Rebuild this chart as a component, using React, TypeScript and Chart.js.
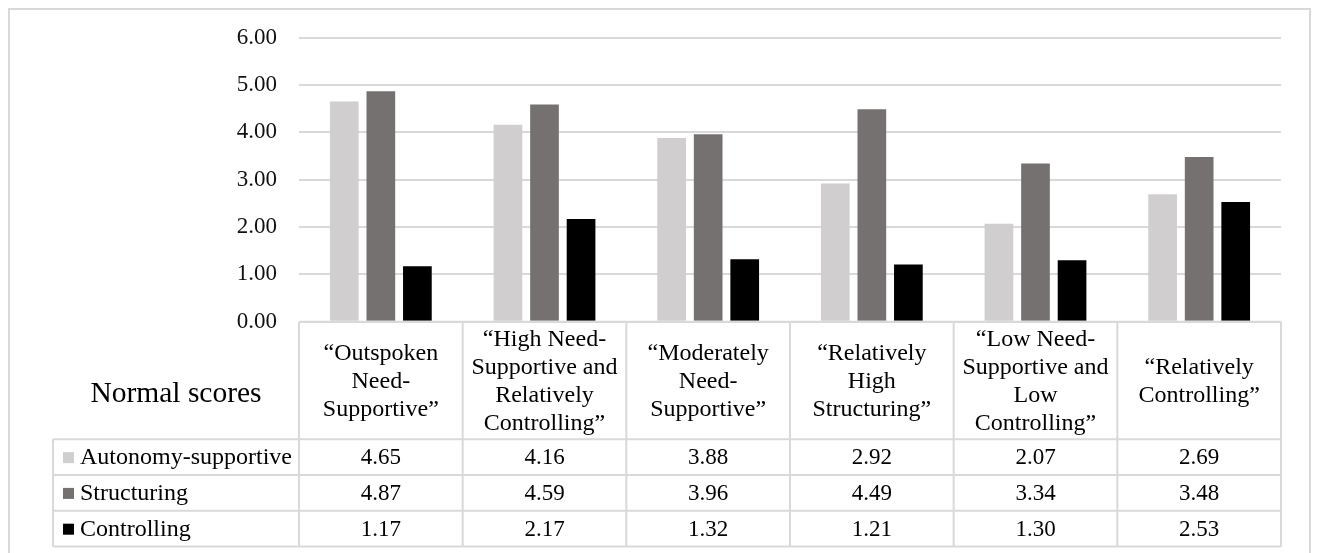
import React, { useEffect, useRef } from "react";
import { Chart, registerables } from "chart.js";

Chart.register(...registerables);

const categoryLines: string[][] = [
  ["“Outspoken", "Need-", "Supportive”"],
  ["“High Need-", "Supportive and", "Relatively", "Controlling”"],
  ["“Moderately", "Need-", "Supportive”"],
  ["“Relatively", "High", "Structuring”"],
  ["“Low Need-", "Supportive and", "Low", "Controlling”"],
  ["“Relatively", "Controlling”"],
];
const categories = categoryLines.map((l) => l.join(" "));

const seriesNames = ["Autonomy-supportive", "Structuring", "Controlling"];
const autonomy = [4.65, 4.16, 3.88, 2.92, 2.07, 2.69];
const structuring = [4.87, 4.59, 3.96, 4.49, 3.34, 3.48];
const controlling = [1.17, 2.17, 1.32, 1.21, 1.3, 2.53];
const seriesColors = ["#d0cece", "#767171", "#000000"];
const tableTitle = "Normal scores";

const FONT = '"Liberation Serif", "Times New Roman", serif';
const LINE = "#d9d9d9";

const tablePlugin = {
  id: "dataTable",
  afterDraw(chart: any) {
    const ctx = chart.ctx;
    const xs = chart.scales.x;
    const area = chart.chartArea;
    const n = categories.length;
    const colW = (xs.right - xs.left) / n;
    const left0 = 53;
    const top = area.bottom;
    const headerBottom = top + 117.5;
    const rowH = 35.8;
    const rows = [headerBottom, headerBottom + rowH, headerBottom + 2 * rowH, headerBottom + 3 * rowH];
    const all = [autonomy, structuring, controlling];

    ctx.save();
    ctx.strokeStyle = LINE;
    ctx.lineWidth = 2;
    ctx.beginPath();
    ctx.moveTo(xs.left, top);
    ctx.lineTo(xs.right, top);
    rows.forEach((y) => {
      ctx.moveTo(left0, y);
      ctx.lineTo(xs.right, y);
    });
    for (let i = 0; i <= n; i++) {
      const x = xs.left + i * colW;
      ctx.moveTo(x, top);
      ctx.lineTo(x, rows[3]);
    }
    ctx.moveTo(left0, rows[0]);
    ctx.lineTo(left0, rows[3]);
    ctx.stroke();

    ctx.fillStyle = "#000";
    ctx.textAlign = "center";
    ctx.textBaseline = "middle";
    ctx.font = `24px ${FONT}`;
    const lh = 28;
    const hc = (top + headerBottom) / 2 + 1;
    categoryLines.forEach((lines, i) => {
      const cx = xs.getPixelForValue(i);
      const start = hc - ((lines.length - 1) * lh) / 2;
      lines.forEach((t, j) => ctx.fillText(t, cx, start + j * lh));
    });

    ctx.font = `29.5px ${FONT}`;
    ctx.fillText(tableTitle, (left0 + xs.left) / 2, top + 73);

    ctx.font = `23px ${FONT}`;
    all.forEach((vals, r) => {
      const cy = (rows[r] + rows[r + 1]) / 2 + 1;
      vals.forEach((v, i) => {
        ctx.fillText(v.toFixed(2), xs.getPixelForValue(i), cy);
      });
    });

    ctx.textAlign = "left";
    ctx.font = `24px ${FONT}`;
    seriesNames.forEach((name, r) => {
      const cy = (rows[r] + rows[r + 1]) / 2;
      ctx.fillStyle = seriesColors[r];
      ctx.fillRect(63, cy - 5, 11, 11);
      ctx.fillStyle = "#000";
      ctx.fillText(name, 80, cy + 1);
    });
    ctx.restore();
  },
};

export default function App() {
  const ref = useRef<HTMLCanvasElement | null>(null);
  useEffect(() => {
    if (!ref.current) return;
    const chart = new Chart(ref.current, {
      type: "bar",
      data: {
        labels: categories,
        datasets: [autonomy, structuring, controlling].map((d, i) => ({
          label: seriesNames[i],
          data: d,
          backgroundColor: seriesColors[i],
          borderWidth: 0,
          categoryPercentage: 0.67,
          barPercentage: 0.785,
        })),
      },
      options: {
        responsive: false,
        animation: false,
        layout: { padding: { left: 0, top: 37.7, right: 37, bottom: 553 - 321.7 } },
        plugins: { legend: { display: false }, tooltip: { enabled: false } },
        scales: {
          x: { display: false },
          y: {
            min: 0,
            max: 6,
            ticks: {
              stepSize: 1,
              padding: 22,
              color: "#111",
              font: { family: FONT, size: 23 },
              callback: (v: any) => Number(v).toFixed(2),
            },
            grid: { color: LINE, lineWidth: 2, drawTicks: false },
            border: { display: false },
            afterFit: (s: any) => {
              s.width = 299;
            },
          },
        },
      },
      plugins: [tablePlugin],
    });
    return () => chart.destroy();
  }, []);

  return (
    <div style={{ position: "absolute", left: 0, top: 0, width: 1318, height: 553, overflow: "hidden", background: "#fff" }}>
      <div
        style={{
          position: "absolute",
          left: 8,
          top: 8,
          width: 1303,
          height: 560,
          border: `2px solid ${LINE}`,
          boxSizing: "border-box",
        }}
      />
      <canvas ref={ref} width={1318} height={553} style={{ position: "absolute", left: 0, top: 0 }} />
    </div>
  );
}
